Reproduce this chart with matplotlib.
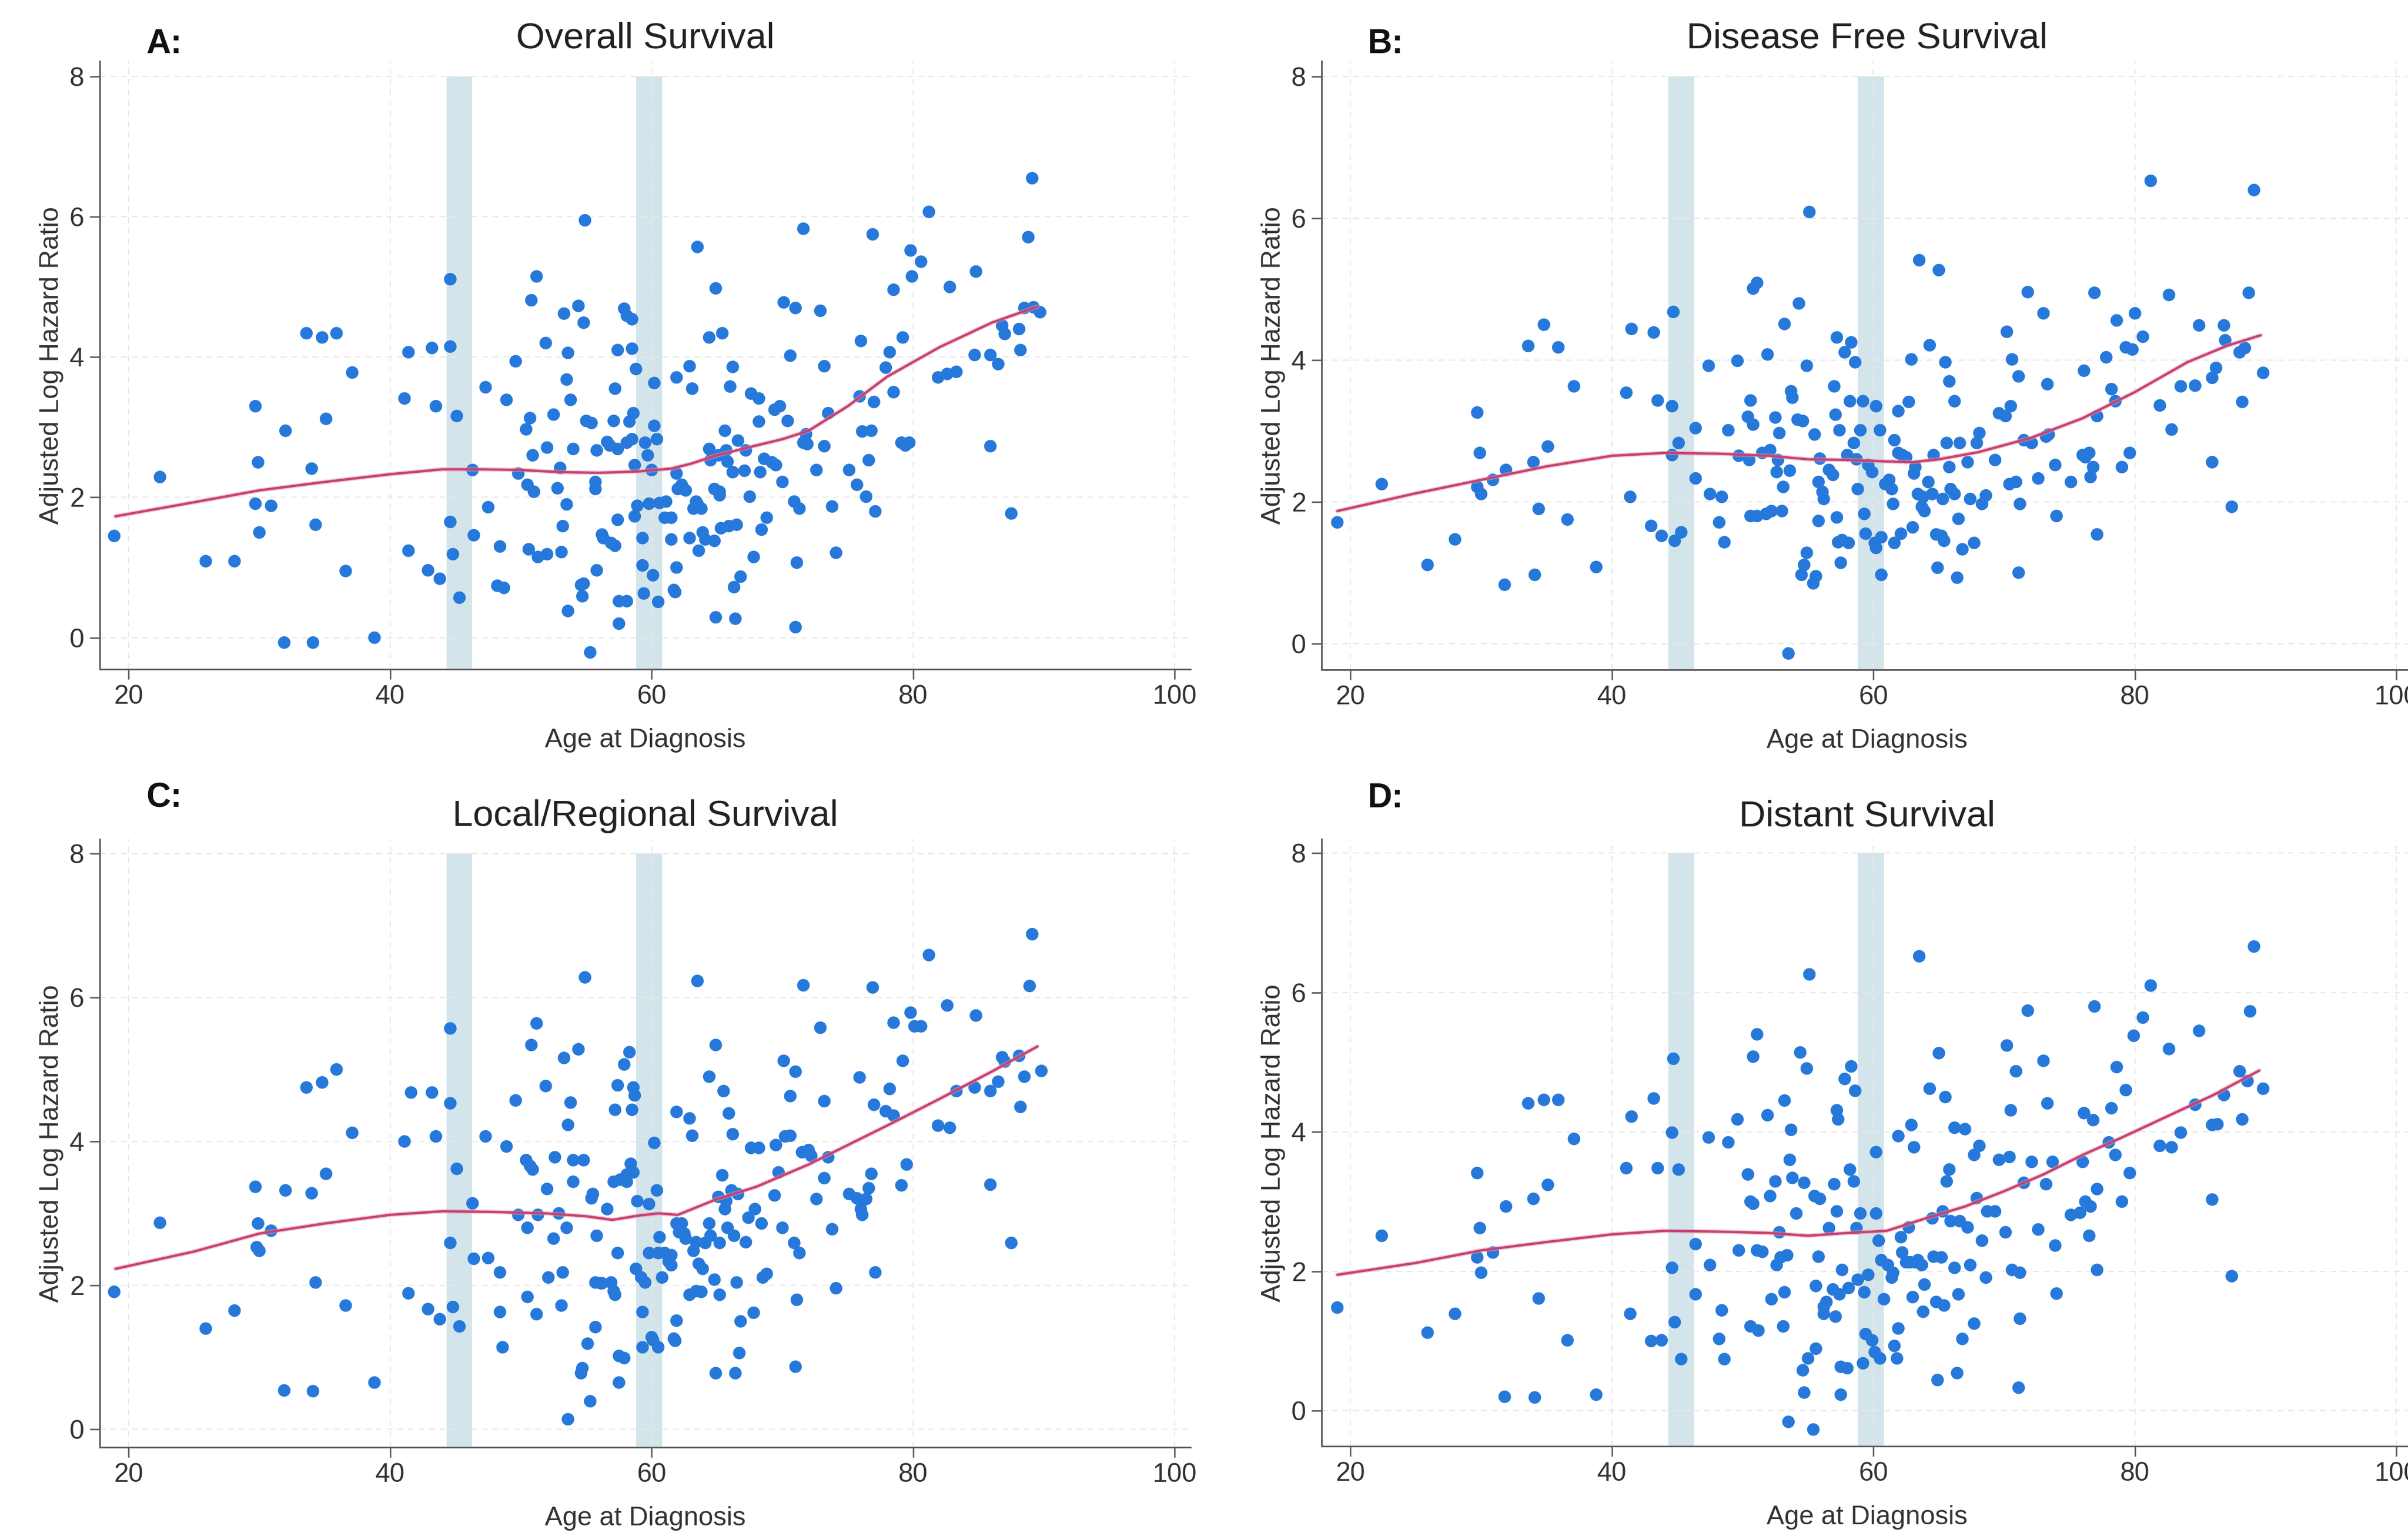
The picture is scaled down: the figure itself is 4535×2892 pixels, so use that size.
import matplotlib
matplotlib.use("Agg")
import matplotlib.pyplot as plt
import numpy as np

# ---- data: (age at diagnosis, adjusted log hazard ratio)
pts_a = [
    (18.9, 1.45), (22.4, 2.29), (25.9, 1.09), (28.1, 1.09), (29.7, 3.30), (29.9, 2.50), (29.7, 1.91), (30.0, 1.50),
    (30.9, 1.88), (31.9, -0.07), (32.0, 2.95), (33.6, 4.34), (34.0, 2.41), (34.1, -0.07), (34.3, 1.61), (34.8, 4.28),
    (35.1, 3.12), (35.9, 4.34), (36.6, 0.95), (37.1, 3.78), (38.8, 0.00), (41.1, 3.41), (41.4, 4.07), (41.4, 1.24),
    (42.9, 0.96), (43.2, 4.13), (43.5, 3.30), (43.8, 0.84), (44.6, 5.11), (44.6, 4.15), (44.6, 1.65), (44.8, 1.19),
    (45.1, 3.16), (45.3, 0.57), (46.3, 2.39), (46.4, 1.46), (47.3, 3.57), (47.5, 1.86), (48.4, 1.30), (48.2, 0.74),
    (48.7, 0.71), (48.9, 3.39), (49.6, 3.94), (49.8, 2.34), (50.4, 2.97), (50.7, 3.13), (50.5, 2.18), (50.6, 1.26),
    (50.8, 4.81), (51.2, 5.15), (50.9, 2.60), (51.0, 2.08), (51.3, 1.15), (51.9, 4.20), (52.0, 2.71), (52.0, 1.19),
    (52.5, 3.18), (52.8, 2.13), (53.0, 2.42), (53.1, 1.22), (53.3, 4.62), (53.2, 1.59), (53.5, 1.90), (53.5, 3.68),
    (53.6, 0.38), (53.6, 4.06), (53.8, 3.39), (54.0, 2.69), (54.4, 4.73), (54.6, 0.75), (54.7, 0.59), (54.8, 4.49),
    (54.8, 0.77), (54.9, 5.95), (55.3, -0.21), (55.0, 3.09), (55.4, 3.06), (55.7, 2.12), (55.7, 2.22), (55.8, 0.96),
    (55.8, 2.67), (56.2, 1.47), (56.3, 1.42), (56.6, 2.79), (56.8, 2.74), (56.9, 1.35), (57.1, 3.09), (57.2, 3.55),
    (57.2, 1.31), (57.4, 4.10), (57.4, 2.69), (57.4, 1.68), (57.5, 0.52), (57.5, 0.20), (57.9, 4.69), (58.1, 0.52),
    (58.1, 2.78), (58.1, 4.59), (58.3, 3.08), (58.5, 4.12), (58.5, 4.54), (58.5, 2.83), (58.6, 3.20), (58.7, 2.46),
    (58.7, 1.73), (58.8, 3.83), (58.9, 1.88), (59.3, 1.42), (59.3, 1.03), (59.4, 0.63), (59.5, 2.78), (59.7, 2.60),
    (59.8, 1.91), (60.0, 2.39), (60.1, 0.89), (60.2, 3.63), (60.2, 3.02), (60.4, 2.83), (60.5, 0.51), (60.6, 1.92),
    (61.1, 1.94), (61.0, 1.71), (61.5, 1.71), (61.5, 1.40), (61.7, 0.68), (61.8, 0.65), (61.9, 2.34), (61.9, 1.00),
    (61.9, 3.71), (62.0, 2.12), (62.3, 2.18), (62.6, 2.10), (62.9, 3.87), (62.9, 1.42), (63.1, 3.55), (63.2, 1.84),
    (63.4, 1.94), (63.5, 5.57), (63.5, 1.91), (63.6, 1.24), (63.8, 1.84), (63.9, 1.50), (64.1, 1.40), (64.4, 4.28),
    (64.4, 2.69), (64.5, 2.53), (64.8, 2.12), (64.8, 1.38), (64.9, 0.29), (64.9, 4.98), (65.1, 2.60), (65.2, 2.08),
    (65.2, 2.03), (65.3, 1.56), (65.4, 4.34), (65.6, 2.95), (65.7, 2.67), (65.8, 2.51), (65.9, 1.59), (66.0, 3.58),
    (66.2, 2.36), (66.2, 3.86), (66.3, 0.72), (66.4, 0.27), (66.5, 1.61), (66.6, 2.81), (66.8, 0.87), (67.1, 2.38),
    (67.2, 2.67), (67.5, 2.01), (67.6, 3.48), (67.8, 1.15), (68.2, 3.41), (68.2, 3.08), (68.3, 2.36), (68.4, 1.54),
    (68.6, 2.55), (68.8, 1.71), (69.2, 2.50), (69.4, 3.25), (69.5, 2.46), (69.8, 3.30), (70.0, 2.22), (70.1, 4.78),
    (70.4, 3.09), (70.6, 4.02), (70.9, 1.94), (71.0, 0.15), (71.0, 4.70), (71.1, 1.07), (71.3, 1.84), (71.6, 2.78),
    (71.6, 5.83), (71.8, 2.90), (71.9, 2.76), (72.6, 2.39), (72.9, 4.66), (73.2, 2.73), (73.2, 3.87), (73.5, 3.20),
    (73.8, 1.87), (74.1, 1.21), (75.1, 2.39), (75.7, 2.18), (75.9, 3.44), (76.0, 4.23), (76.1, 2.94), (76.4, 2.01),
    (76.6, 2.53), (76.8, 2.95), (76.9, 5.75), (77.0, 3.36), (77.1, 1.80), (77.9, 3.85), (78.2, 4.07), (78.5, 3.50),
    (78.5, 4.96), (79.1, 2.78), (79.2, 4.28), (79.4, 2.74), (79.7, 2.78), (79.8, 5.52), (79.9, 5.15), (80.6, 5.36),
    (81.2, 6.07), (81.9, 3.71), (82.6, 3.76), (82.8, 5.00), (83.3, 3.79), (84.8, 5.22), (84.7, 4.03), (85.9, 2.73),
    (85.9, 4.03), (86.5, 3.90), (86.8, 4.45), (87.0, 4.33), (87.5, 1.77), (88.1, 4.40), (88.2, 4.10), (88.5, 4.70),
    (88.8, 5.71), (89.1, 6.55), (89.2, 4.71), (89.7, 4.64),
]
pts_b = [
    (19.0, 1.71), (22.4, 2.25), (25.9, 1.11), (28.0, 1.47), (29.7, 3.26), (29.9, 2.69), (29.7, 2.21), (30.0, 2.11),
    (30.9, 2.31), (31.8, 0.83), (31.9, 2.45), (33.6, 4.20), (34.0, 2.56), (34.1, 0.97), (34.4, 1.90), (34.8, 4.50),
    (35.1, 2.78), (35.9, 4.18), (36.6, 1.75), (37.1, 3.63), (38.8, 1.08), (41.1, 3.54), (41.4, 2.07), (41.5, 4.44),
    (43.0, 1.66), (43.2, 4.39), (43.5, 3.43), (43.8, 1.52), (44.6, 2.66), (44.6, 3.35), (44.7, 4.68), (44.8, 1.45),
    (45.1, 2.83), (45.3, 1.57), (46.4, 3.04), (46.4, 2.33), (47.4, 3.92), (47.5, 2.11), (48.2, 1.71), (48.4, 2.07),
    (48.6, 1.43), (48.9, 3.01), (49.6, 3.99), (49.7, 2.65), (50.4, 3.20), (50.5, 2.59), (50.6, 1.80), (50.6, 3.43),
    (50.8, 3.09), (50.8, 5.01), (51.1, 5.09), (51.1, 1.80), (51.5, 2.69), (51.8, 1.83), (51.9, 4.08), (52.1, 2.73),
    (52.2, 1.87), (52.5, 3.19), (52.6, 2.42), (52.7, 2.59), (52.8, 2.97), (53.0, 1.87), (53.1, 2.21), (53.2, 4.51),
    (53.5, -0.14), (53.6, 2.44), (53.7, 3.56), (53.8, 3.47), (54.2, 3.16), (54.3, 4.80), (54.5, 0.97), (54.6, 3.14),
    (54.7, 1.11), (54.9, 3.92), (54.9, 1.28), (55.1, 6.09), (55.4, 0.85), (55.5, 2.95), (55.6, 0.95), (55.8, 1.73),
    (55.8, 2.28), (55.9, 2.61), (56.1, 2.14), (56.2, 2.04), (56.6, 2.45), (56.9, 2.38), (57.0, 3.63), (57.1, 3.23),
    (57.2, 4.32), (57.2, 1.78), (57.3, 1.43), (57.4, 3.01), (57.5, 1.14), (57.6, 1.46), (57.8, 4.11), (58.0, 2.66),
    (58.1, 1.42), (58.2, 3.42), (58.3, 4.25), (58.5, 2.83), (58.6, 3.97), (58.7, 2.60), (58.8, 2.18), (59.0, 3.01),
    (59.2, 3.42), (59.3, 1.83), (59.4, 1.55), (59.6, 2.52), (59.9, 2.42), (60.1, 1.42), (60.2, 1.35), (60.2, 3.35),
    (60.5, 3.01), (60.6, 0.97), (60.6, 1.50), (60.9, 2.25), (61.2, 2.31), (61.4, 2.18), (61.5, 1.97), (61.6, 1.42),
    (61.6, 2.87), (61.9, 2.69), (61.9, 3.28), (62.1, 1.55), (62.2, 2.66), (62.5, 2.63), (62.7, 3.41), (62.9, 4.01),
    (63.0, 1.64), (63.1, 2.40), (63.2, 2.49), (63.4, 2.11), (63.5, 5.41), (63.7, 1.93), (63.8, 2.07), (63.9, 1.87),
    (64.2, 2.28), (64.3, 4.21), (64.5, 2.11), (64.6, 2.66), (64.8, 1.54), (64.9, 1.07), (65.0, 5.27), (65.2, 1.52),
    (65.3, 2.04), (65.4, 1.45), (65.5, 3.97), (65.6, 2.83), (65.8, 2.49), (65.8, 3.70), (65.9, 2.18), (66.2, 3.42),
    (66.2, 2.11), (66.4, 0.93), (66.5, 1.76), (66.6, 2.83), (66.8, 1.33), (67.2, 2.56), (67.4, 2.04), (67.7, 1.42),
    (67.9, 2.83), (68.1, 2.97), (68.3, 1.97), (68.6, 2.09), (69.3, 2.59), (69.6, 3.25), (70.1, 3.21), (70.2, 4.40),
    (70.4, 2.25), (70.5, 3.35), (70.6, 4.01), (70.9, 2.28), (71.1, 3.77), (71.1, 1.00), (71.2, 1.97), (71.5, 2.87),
    (71.8, 4.96), (72.1, 2.83), (72.6, 2.33), (73.0, 4.66), (73.2, 2.92), (73.3, 3.66), (73.4, 2.95), (73.9, 2.52),
    (74.0, 1.80), (75.1, 2.28), (76.0, 2.66), (76.1, 3.85), (76.2, 2.63), (76.5, 2.69), (76.6, 2.35), (76.8, 2.49),
    (76.9, 4.95), (77.1, 3.21), (77.1, 1.54), (77.8, 4.04), (78.2, 3.59), (78.5, 3.42), (78.6, 4.56), (79.0, 2.49),
    (79.3, 4.18), (79.6, 2.69), (79.8, 4.15), (80.0, 4.66), (80.6, 4.33), (81.2, 6.53), (81.9, 3.36), (82.6, 4.92),
    (82.8, 3.02), (83.5, 3.63), (84.6, 3.64), (84.9, 4.49), (85.9, 2.56), (85.9, 3.75), (86.2, 3.89), (86.8, 4.49),
    (86.9, 4.28), (87.4, 1.93), (88.0, 4.11), (88.2, 3.41), (88.4, 4.17), (88.7, 4.95), (89.1, 6.40), (89.8, 3.82),
]
pts_c = [
    (18.9, 1.91), (22.4, 2.87), (25.9, 1.40), (28.1, 1.65), (29.7, 3.37), (29.9, 2.86), (29.8, 2.53), (30.0, 2.48),
    (30.9, 2.76), (31.9, 0.54), (32.0, 3.32), (33.6, 4.75), (34.0, 3.28), (34.1, 0.53), (34.3, 2.04), (34.8, 4.82),
    (35.1, 3.55), (35.9, 5.00), (36.6, 1.72), (37.1, 4.12), (38.8, 0.65), (41.1, 4.00), (41.4, 1.89), (41.6, 4.68),
    (42.9, 1.67), (43.2, 4.68), (43.5, 4.07), (43.8, 1.53), (44.6, 5.57), (44.6, 4.53), (44.6, 2.59), (44.8, 1.70),
    (45.1, 3.62), (45.3, 1.43), (46.3, 3.14), (46.4, 2.37), (47.3, 4.07), (47.5, 2.38), (48.4, 1.63), (48.4, 2.18),
    (48.6, 1.14), (48.9, 3.93), (49.6, 4.57), (49.8, 2.98), (50.4, 3.74), (50.7, 3.66), (50.5, 1.84), (50.5, 2.80),
    (50.8, 5.34), (51.2, 5.64), (50.9, 3.61), (51.2, 1.60), (51.3, 2.98), (51.9, 4.77), (52.0, 3.34), (52.1, 2.11),
    (52.5, 2.65), (52.6, 3.78), (52.9, 3.00), (53.1, 1.72), (53.2, 2.18), (53.3, 5.16), (53.5, 2.80), (53.6, 0.14),
    (53.6, 4.23), (53.8, 4.54), (54.0, 3.44), (54.0, 3.74), (54.4, 5.28), (54.6, 0.78), (54.7, 0.85), (54.8, 3.74),
    (54.9, 6.28), (55.1, 1.19), (55.3, 0.39), (55.4, 3.21), (55.5, 3.27), (55.7, 1.42), (55.8, 2.69), (55.7, 2.04),
    (56.1, 2.03), (56.2, 2.03), (56.6, 3.06), (56.9, 2.04), (57.1, 1.92), (57.1, 3.44), (57.2, 1.87), (57.2, 4.44),
    (57.4, 4.78), (57.4, 2.45), (57.5, 1.02), (57.5, 0.65), (57.6, 3.47), (57.9, 0.99), (57.9, 5.07), (58.1, 3.54),
    (58.1, 3.44), (58.3, 5.24), (58.4, 3.69), (58.5, 4.44), (58.6, 4.75), (58.6, 3.57), (58.7, 4.64), (58.8, 2.23),
    (58.9, 3.17), (59.2, 2.11), (59.3, 1.63), (59.3, 1.14), (59.5, 2.04), (59.8, 3.13), (59.8, 2.45), (60.0, 1.28),
    (60.1, 1.24), (60.2, 3.98), (60.4, 3.32), (60.5, 1.14), (60.5, 2.45), (60.6, 2.67), (60.8, 2.11), (61.0, 2.45),
    (61.3, 2.33), (61.5, 2.42), (61.5, 2.28), (61.7, 1.26), (61.8, 1.23), (61.9, 1.51), (61.9, 2.86), (61.9, 4.41),
    (62.1, 2.74), (62.3, 2.86), (62.5, 2.72), (62.6, 2.65), (62.9, 4.32), (62.9, 1.87), (63.1, 4.08), (63.2, 2.48),
    (63.4, 2.60), (63.4, 1.92), (63.5, 6.23), (63.6, 2.30), (63.8, 1.91), (63.9, 2.23), (64.1, 2.59), (64.4, 4.90),
    (64.4, 2.86), (64.5, 2.69), (64.8, 2.08), (64.9, 0.78), (64.9, 5.34), (65.1, 3.23), (65.2, 2.59), (65.2, 1.87),
    (65.4, 3.53), (65.5, 4.70), (65.6, 3.06), (65.7, 3.17), (65.8, 2.80), (65.9, 4.39), (66.1, 3.32), (66.2, 4.10),
    (66.3, 2.69), (66.4, 0.78), (66.5, 2.04), (66.6, 3.27), (66.7, 1.06), (66.8, 1.50), (67.2, 2.60), (67.4, 2.94),
    (67.6, 3.91), (67.8, 1.62), (67.9, 3.06), (68.2, 3.91), (68.4, 2.86), (68.5, 2.11), (68.8, 2.16), (69.4, 3.25),
    (69.5, 3.95), (69.7, 3.57), (70.0, 2.80), (70.1, 5.12), (70.2, 4.07), (70.6, 4.08), (70.6, 4.63), (70.9, 2.59),
    (71.0, 0.87), (71.0, 4.97), (71.1, 1.80), (71.3, 2.45), (71.5, 3.85), (71.6, 6.17), (72.0, 3.88), (72.2, 3.80),
    (72.6, 3.20), (72.9, 5.58), (73.2, 3.49), (73.2, 4.56), (73.5, 3.78), (73.8, 2.78), (74.1, 1.96), (75.1, 3.27),
    (75.7, 3.21), (75.9, 4.89), (76.0, 3.06), (76.1, 2.98), (76.4, 3.20), (76.6, 3.35), (76.8, 3.55), (76.9, 6.14),
    (77.0, 4.51), (77.1, 2.18), (77.9, 4.42), (78.2, 4.73), (78.5, 4.36), (78.5, 5.65), (79.1, 3.39), (79.2, 5.12),
    (79.5, 3.68), (79.8, 5.79), (80.1, 5.60), (80.6, 5.60), (81.2, 6.59), (81.9, 4.22), (82.6, 5.89), (82.8, 4.19),
    (83.3, 4.70), (84.8, 5.75), (84.7, 4.75), (85.9, 3.40), (85.9, 4.70), (86.5, 4.83), (86.8, 5.17), (87.0, 5.11),
    (87.5, 2.59), (88.1, 5.19), (88.2, 4.48), (88.5, 4.90), (88.9, 6.16), (89.1, 6.88), (89.8, 4.98),
]
pts_d = [
    (19.0, 1.48), (22.4, 2.51), (25.9, 1.12), (28.0, 1.39), (29.7, 3.41), (29.9, 2.62), (29.7, 2.20), (30.0, 1.98),
    (30.9, 2.27), (31.8, 0.20), (31.9, 2.93), (33.6, 4.41), (34.0, 3.04), (34.1, 0.19), (34.4, 1.61), (34.8, 4.46),
    (35.1, 3.24), (35.9, 4.46), (36.6, 1.01), (37.1, 3.90), (38.8, 0.23), (41.1, 3.48), (41.4, 1.39), (41.5, 4.22),
    (43.0, 1.00), (43.2, 4.48), (43.5, 3.48), (43.8, 1.01), (44.6, 2.05), (44.6, 3.99), (44.7, 5.05), (44.8, 1.27),
    (45.1, 3.46), (45.3, 0.74), (46.4, 2.39), (46.4, 1.67), (47.4, 3.92), (47.5, 2.09), (48.2, 1.03), (48.4, 1.44),
    (48.6, 0.74), (48.9, 3.85), (49.6, 4.18), (49.7, 2.30), (50.4, 3.39), (50.6, 3.00), (50.6, 1.21), (50.8, 2.97),
    (50.8, 5.08), (51.1, 5.40), (51.1, 2.30), (51.2, 1.15), (51.5, 2.28), (51.9, 4.24), (52.1, 3.08), (52.2, 1.60),
    (52.5, 3.29), (52.6, 2.09), (52.8, 2.56), (52.9, 2.20), (53.1, 1.21), (53.2, 1.70), (53.2, 4.45), (53.4, 2.23),
    (53.5, -0.16), (53.6, 3.60), (53.7, 4.03), (53.8, 3.34), (54.1, 2.83), (54.4, 5.14), (54.6, 0.58), (54.7, 3.27),
    (54.7, 0.26), (54.9, 4.91), (55.0, 0.75), (55.1, 6.26), (55.4, -0.27), (55.5, 3.08), (55.6, 0.89), (55.6, 1.79),
    (55.8, 2.21), (55.9, 3.04), (56.2, 1.49), (56.2, 1.39), (56.4, 1.56), (56.6, 2.62), (56.9, 1.74), (57.0, 3.25),
    (57.1, 1.35), (57.2, 2.86), (57.2, 4.31), (57.3, 4.18), (57.4, 1.67), (57.5, 0.23), (57.5, 0.63), (57.6, 2.02),
    (57.8, 4.76), (58.0, 0.61), (58.1, 1.76), (58.2, 3.46), (58.3, 4.94), (58.5, 3.29), (58.6, 4.59), (58.7, 2.62),
    (58.8, 1.88), (59.0, 2.83), (59.2, 0.68), (59.3, 1.70), (59.4, 1.10), (59.6, 1.95), (59.9, 1.01), (60.1, 0.84),
    (60.2, 3.71), (60.2, 2.83), (60.4, 2.44), (60.5, 0.75), (60.6, 2.16), (60.8, 1.60), (61.1, 2.09), (61.4, 1.91),
    (61.5, 1.98), (61.6, 0.93), (61.8, 0.75), (61.9, 1.18), (61.9, 3.94), (62.1, 2.49), (62.2, 2.27), (62.5, 2.13),
    (62.7, 2.63), (62.8, 2.13), (62.9, 4.10), (63.0, 1.63), (63.1, 3.78), (63.2, 2.13), (63.4, 2.16), (63.5, 6.52),
    (63.7, 2.09), (63.8, 1.42), (63.9, 1.81), (64.3, 4.62), (64.5, 2.76), (64.6, 2.21), (64.8, 1.56), (64.9, 0.44),
    (65.0, 5.13), (65.2, 2.20), (65.3, 2.86), (65.4, 1.51), (65.5, 4.50), (65.6, 3.29), (65.8, 3.46), (65.9, 2.72),
    (66.2, 2.05), (66.2, 4.06), (66.4, 0.54), (66.5, 1.67), (66.6, 2.72), (66.8, 1.03), (67.0, 4.04), (67.2, 2.63),
    (67.4, 2.09), (67.7, 1.25), (67.7, 3.67), (67.9, 3.05), (68.1, 3.80), (68.3, 2.44), (68.6, 1.91), (68.7, 2.86),
    (69.3, 2.86), (69.6, 3.60), (70.1, 2.56), (70.2, 5.24), (70.4, 3.64), (70.5, 4.31), (70.6, 2.02), (70.9, 4.87),
    (71.1, 0.33), (71.2, 1.98), (71.2, 1.32), (71.5, 3.27), (71.8, 5.74), (72.1, 3.57), (72.6, 2.60), (73.0, 5.02),
    (73.2, 3.25), (73.3, 4.41), (73.7, 3.57), (73.9, 2.37), (74.0, 1.68), (75.1, 2.81), (75.8, 2.84), (76.0, 3.57),
    (76.1, 4.27), (76.2, 3.00), (76.5, 2.51), (76.6, 2.93), (76.8, 4.17), (76.9, 5.80), (77.1, 3.18), (77.1, 2.02),
    (78.0, 3.85), (78.2, 4.34), (78.5, 3.67), (78.6, 4.93), (79.0, 3.00), (79.3, 4.60), (79.6, 3.41), (79.9, 5.38),
    (80.6, 5.64), (81.2, 6.10), (81.9, 3.80), (82.6, 5.19), (82.8, 3.78), (83.5, 3.99), (84.6, 4.39), (84.9, 5.45),
    (85.9, 3.03), (85.9, 4.10), (86.3, 4.11), (86.8, 4.53), (87.4, 1.93), (88.0, 4.87), (88.2, 4.18), (88.6, 4.73),
    (88.8, 5.73), (89.1, 6.66), (89.8, 4.62),
]

# smoothed fit
fit_a = [(19, 1.73), (25, 1.93), (30, 2.10), (35, 2.22), (40, 2.33), (44, 2.40), (47, 2.40), (50, 2.39),
         (53, 2.36), (56, 2.35), (59, 2.37), (61.5, 2.41), (63, 2.48), (65, 2.60), (68, 2.74), (70, 2.83),
         (72, 2.95), (75, 3.30), (78, 3.72), (82, 4.14), (86, 4.49), (89.5, 4.72)]
fit_b = [(19, 1.87), (25, 2.12), (30, 2.31), (35, 2.50), (40, 2.65), (44, 2.69), (48, 2.68), (52, 2.65),
         (55, 2.60), (58, 2.59), (61, 2.57), (63, 2.56), (65, 2.60), (68, 2.70), (72, 2.90), (76, 3.18),
         (80, 3.55), (84, 3.97), (87, 4.20), (89.6, 4.35)]
fit_c = [(19, 2.23), (25, 2.47), (30, 2.72), (35, 2.86), (40, 2.98), (44, 3.03), (48, 3.02), (52, 3.00),
         (55, 2.96), (57, 2.91), (59, 2.97), (60.5, 3.00), (62, 2.98), (65, 3.20), (68, 3.37), (72, 3.68),
         (75, 3.95), (78, 4.22), (82, 4.59), (86, 4.97), (89.5, 5.32)]
fit_d = [(19, 1.95), (25, 2.12), (30, 2.30), (35, 2.42), (40, 2.53), (44, 2.58), (48, 2.57), (52, 2.55),
         (55, 2.51), (58, 2.55), (61, 2.58), (64, 2.76), (67, 2.93), (70, 3.15), (73, 3.39), (76, 3.67),
         (79, 3.92), (83, 4.27), (86, 4.53), (89.5, 4.88)]

bands = [(44.3, 46.25), (58.8, 60.8)]
band_top = 8
titles = ["Overall Survival", "Disease Free Survival", "Local/Regional Survival", "Distant Survival"]
letters = ["A:", "B:", "C:", "D:"]
xticks = [20, 40, 60, 80, 100]
yticks = [0, 2, 4, 6, 8]

# ---- layout (pixel based, figure is 4535 x 2892)
W, H = 4535, 2892
fig = plt.figure(figsize=(W / 100, H / 100), dpi=100)

fam = ["Liberation Sans", "DejaVu Sans"]

dot_col = "#2679da"
line_col = "#c8416f"
band_col = "#d3e5ea"
axis_col = "#5c5c5c"

# left, top, right, bottom in pixels; y-limits per panel
boxes = [(188, 115, 2242, 1260), (2489, 115, 4543, 1261),
         (188, 1580, 2242, 2725), (2489, 1580, 4543, 2723)]
ylims = [(-0.45, 8.22), (-0.37, 8.22), (-0.25, 8.2), (-0.51, 8.2)]
all_pts = [pts_a, pts_b, pts_c, pts_d]
all_fits = [fit_a, fit_b, fit_c, fit_d]

for i in range(4):
    l, t, r, b = boxes[i]
    ax = fig.add_axes([l / W, 1 - b / H, (r - l) / W, (b - t) / H])
    ylo, yhi = ylims[i]
    ax.set_xlim(17.8, 101.2)
    ax.set_ylim(ylo, yhi)

    for lo, hi in bands:
        ax.axvspan(lo, hi, ymin=0, ymax=(band_top - ylo) / (yhi - ylo),
                   color=band_col, lw=0, zorder=0.3)

    p = np.array(all_pts[i])
    ax.scatter(p[:, 0], p[:, 1], s=290, color=dot_col, edgecolors="none", zorder=3)
    f = np.array(all_fits[i])
    ax.plot(f[:, 0], f[:, 1], color="#e79ab5", lw=6, alpha=0.5, zorder=4, solid_capstyle="round")
    ax.plot(f[:, 0], f[:, 1], color=line_col, lw=3.2, zorder=4, solid_capstyle="round")

    ax.set_xticks(xticks)
    ax.set_yticks(yticks)
    ax.grid(True, color="#e8e8e8", lw=1.6, ls=(0, (5, 4)))
    ax.set_axisbelow(True)

    for s in ["top", "right"]:
        ax.spines[s].set_visible(False)
    for s in ["left", "bottom"]:
        ax.spines[s].set_color(axis_col)
        ax.spines[s].set_linewidth(2.2)
    ax.tick_params(length=14, width=2, color=axis_col, pad=7, labelsize=36, labelcolor="#333333")
    for lab in ax.get_xticklabels() + ax.get_yticklabels():
        lab.set_family(fam)

    ax.set_xlabel("Age at Diagnosis", family=fam, fontsize=36, color="#333333", labelpad=26)
    ax.set_ylabel("Adjusted Log Hazard Ratio", family=fam, fontsize=36, color="#333333", labelpad=8)
    ax.set_title(titles[i], family=fam, fontsize=50, color="#222222", pad=18)

    # panel letter
    ly = 100 if i < 2 else 1520
    fig.text((l + 87) / W, 1 - ly / H, letters[i], family=fam, fontsize=46,
             fontweight="bold", color="#111111", va="baseline", ha="left")

fig.savefig("out.png", dpi=100, facecolor="white")
